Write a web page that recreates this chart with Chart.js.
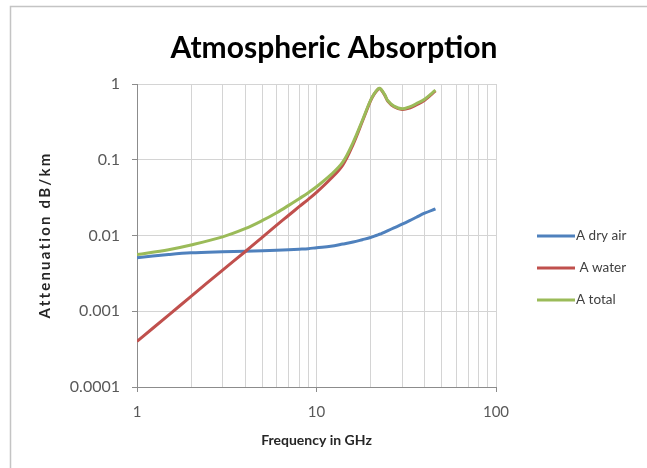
<!DOCTYPE html>
<html>
<head>
<meta charset="utf-8">
<script src="https://cdn.jsdelivr.net/npm/chart.js@4.4.1/dist/chart.umd.min.js"></script>
<style>
  html, body { margin: 0; padding: 0; background: #fff; }
  #wrap { position: relative; width: 647px; height: 468px; }
</style>
</head>
<body>
<div id="wrap"><canvas id="absorption-canvas" width="647" height="468"></canvas></div>
<script>
(function () {
    'use strict';

    // frequency in GHz
    var freq = [1, 1.5, 2, 3, 4, 5, 6, 7, 8, 9, 10, 12, 14, 16, 18, 20, 21, 22, 22.5, 23, 24, 25, 27, 30, 33, 36, 40, 46];
    var dryAir = [0.0051, 0.0056, 0.0059, 0.0061, 0.0062, 0.0063, 0.0064, 0.0065, 0.0066, 0.0067, 0.0069, 0.0072, 0.0077, 0.0082, 0.0088, 0.0094, 0.0098, 0.0102, 0.0104, 0.0106, 0.0111, 0.0116, 0.0126, 0.0141, 0.0157, 0.0174, 0.0197, 0.0225];
    var water = [0.0004, 0.00089, 0.00157, 0.0035, 0.0061, 0.0095, 0.0137, 0.0185, 0.024, 0.030, 0.037, 0.056, 0.085, 0.16, 0.32, 0.60, 0.74, 0.85, 0.87, 0.83, 0.71, 0.59, 0.50, 0.46, 0.48, 0.53, 0.61, 0.81];
    var total = [0.0056, 0.0065, 0.0075, 0.0096, 0.0123, 0.0158, 0.020, 0.025, 0.0306, 0.0367, 0.044, 0.063, 0.093, 0.17, 0.33, 0.61, 0.75, 0.86, 0.88, 0.84, 0.72, 0.60, 0.51, 0.47, 0.50, 0.55, 0.63, 0.83];

    var xTicks = [1, 2, 3, 4, 5, 6, 7, 8, 9, 10, 20, 30, 40, 50, 60, 70, 80, 90, 100];
    var xLabels = { 1: '1', 10: '10', 100: '100' };
    var yTicks = [0.0001, 0.001, 0.01, 0.1, 1];
    var yLabels = ['0.0001', '0.001', '0.01', '0.1', '1'];

    var seriesNames = ['A dry air', ' A water', 'A total'];
    var seriesColors = ['#4f81bd', '#c0504d', '#9bbb59'];

    var titleText = 'Atmospheric Absorption';
    var yTitleText = 'Attenuation dB/km';

    var gridColor = '#d4d4d4';
    var axisColor = '#8c8c8c';
    var textColor = '#595959';
    var fontFamily = 'Lato, "Open Sans", sans-serif';

    function points(ys) {
        return freq.map(function (f, i) {
            return { x: f, y: ys[i] };
        });
    }

    function isDecade(v) {
        return Object.prototype.hasOwnProperty.call(xLabels, v);
    }

    // outer chart frame, white background, title and y title
    var framePlugin = {
        id: 'frame',
        beforeDraw: function (chart) {
            var ctx = chart.ctx;
            ctx.save();
            ctx.fillStyle = '#fff';
            ctx.fillRect(0, 0, chart.width, chart.height);
            ctx.strokeStyle = '#c4c4c4';
            ctx.lineWidth = 1.5;
            ctx.strokeRect(10.5, 6.5, 700, 520);
            ctx.restore();
        },
        afterDraw: function (chart) {
            var ctx = chart.ctx;
            ctx.save();
            ctx.fillStyle = '#000';
            ctx.font = 'bold 30px ' + fontFamily;
            ctx.textAlign = 'center';
            ctx.textBaseline = 'alphabetic';
            ctx.fillText(titleText, 334, 58);

            ctx.translate(45, 235);
            ctx.rotate(-Math.PI / 2);
            ctx.fillStyle = '#262626';
            ctx.font = 'bold 15px ' + fontFamily;
            ctx.letterSpacing = '2.2px';
            ctx.textBaseline = 'middle';
            ctx.fillText(yTitleText, 0, 0);
            ctx.restore();
        },
    };

    // Excel-like legend on the right
    var legendPlugin = {
        id: 'sideLegend',
        afterDraw: function (chart) {
            var ctx = chart.ctx;
            var x0 = 537;
            var ys = [236, 268, 300];
            ctx.save();
            ctx.font = '13.5px ' + fontFamily;
            ctx.textBaseline = 'middle';
            ctx.fillStyle = '#404040';
            seriesNames.forEach(function (name, i) {
                ctx.strokeStyle = seriesColors[i];
                ctx.lineWidth = 3;
                ctx.beginPath();
                ctx.moveTo(x0, ys[i]);
                ctx.lineTo(x0 + 38, ys[i]);
                ctx.stroke();
                ctx.fillText(name, x0 + 39, ys[i]);
            });
            ctx.restore();
        },
    };

    var datasets = [dryAir, water, total].map(function (ys, i) {
        return {
            label: seriesNames[i],
            data: points(ys),
            borderColor: seriesColors[i],
            backgroundColor: seriesColors[i],
            borderWidth: 3,
            pointRadius: 0,
            tension: 0.35,
            order: 3 - i,
        };
    });

    new Chart(document.getElementById('absorption-canvas'), {
        type: 'line',
        data: { datasets: datasets },
        options: {
            responsive: false,
            animation: false,
            events: [],
            layout: { padding: { left: 0, right: 151, top: 84, bottom: 0 } },
            plugins: {
                legend: { display: false },
                tooltip: { enabled: false },
                title: { display: false },
            },
            scales: {
                x: {
                    type: 'logarithmic',
                    min: 1,
                    max: 100,
                    afterBuildTicks: function (scale) {
                        scale.ticks = xTicks.map(function (v) {
                            return { value: v };
                        });
                    },
                    afterFit: function (scale) {
                        scale.height = 81;
                    },
                    border: { color: axisColor, width: 1 },
                    grid: {
                        color: gridColor,
                        tickLength: 5,
                        tickColor: function (c) {
                            return c.tick && isDecade(c.tick.value) ? axisColor : 'rgba(0,0,0,0)';
                        },
                    },
                    ticks: {
                        autoSkip: false,
                        maxRotation: 0,
                        padding: 11,
                        color: textColor,
                        font: { family: fontFamily, size: 15 },
                        callback: function (v) {
                            return isDecade(v) ? xLabels[v] : '';
                        },
                    },
                    title: {
                        display: true,
                        text: 'Frequency in GHz',
                        color: '#262626',
                        font: { family: fontFamily, size: 14, weight: 'bold', lineHeight: 1.2 },
                        padding: { top: 4, bottom: 19.6 },
                    },
                },
                y: {
                    type: 'logarithmic',
                    min: 0.0001,
                    max: 1,
                    afterBuildTicks: function (scale) {
                        scale.ticks = yTicks.map(function (v) {
                            return { value: v };
                        });
                    },
                    afterFit: function (scale) {
                        scale.width = 137;
                    },
                    border: { color: axisColor, width: 1 },
                    grid: { color: gridColor, tickLength: 5, tickColor: axisColor },
                    ticks: {
                        autoSkip: false,
                        padding: 12,
                        color: textColor,
                        font: { family: fontFamily, size: 16 },
                        callback: function (v) {
                            var i = yTicks.indexOf(v);
                            return i >= 0 ? yLabels[i] : '';
                        },
                    },
                    title: { display: false },
                },
            },
        },
        plugins: [framePlugin, legendPlugin],
    });
})();
</script>
</body>
</html>
